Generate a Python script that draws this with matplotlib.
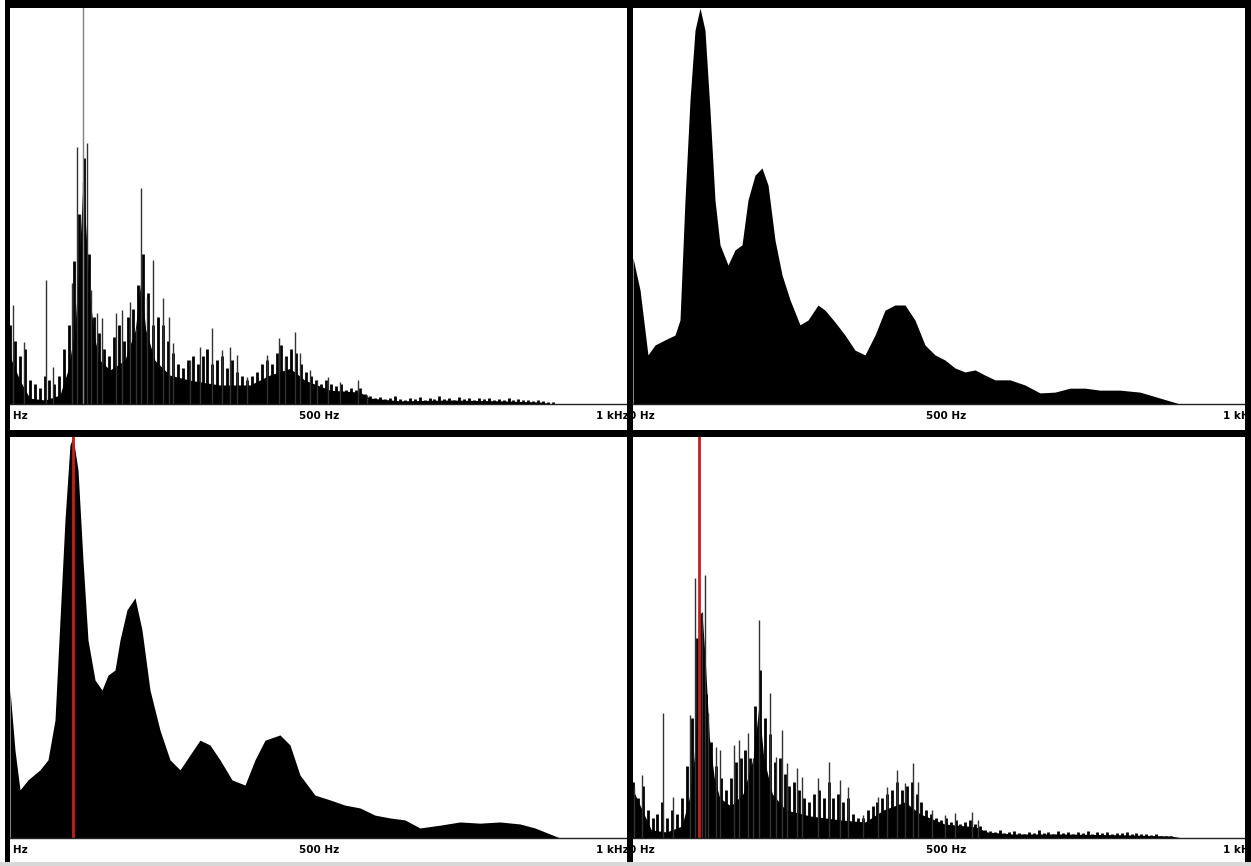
"""Four-panel spectrum view: raw FFT (spiky) and smoothed spectra, 0 Hz - 1 kHz."""

import matplotlib

matplotlib.use('Agg')
import matplotlib.pyplot as plt
from matplotlib.patches import Rectangle

W, H = 1251, 866

# ---- top-right: smoothed spectrum (freq Hz, relative level) ----
tr_freq = [0, 11.5, 24.5, 36, 52.4, 68.7, 76.9, 85.1, 93.3, 101.5, 109.7, 117.8, 126, 134.2,
           142.4, 155.5, 166.9, 178.4, 188.2, 199.7, 211.1, 221, 232.4, 243.9, 257, 273.3,
           286.4, 302.8, 314.2, 330.6, 347, 363.3, 379.7, 396.1, 412.4, 428.8, 445.2, 461.5,
           477.9, 494.3, 510.7, 527, 543.4, 559.8, 576.1, 592.5, 617, 641.6, 666.1, 690.7,
           715.2, 739.8, 764.3, 797.1, 829.8, 862.5, 895.3, 1000]
tr_level = [0.369, 0.288, 0.124, 0.149, 0.162, 0.174, 0.212, 0.515, 0.768, 0.944, 1.0, 0.944,
            0.742, 0.515, 0.402, 0.351, 0.389, 0.402, 0.515, 0.578, 0.596, 0.553, 0.414, 0.326,
            0.263, 0.2, 0.212, 0.25, 0.237, 0.207, 0.174, 0.136, 0.124, 0.174, 0.237, 0.25,
            0.25, 0.212, 0.149, 0.124, 0.111, 0.091, 0.081, 0.086, 0.073, 0.061, 0.061, 0.048,
            0.028, 0.03, 0.04, 0.04, 0.035, 0.035, 0.03, 0.015, 0.0, 0.0]

# ---- bottom-left: smoothed spectrum with marker ----
bl_freq = [0, 8.1, 16.2, 29.2, 48.6, 61.6, 72.9, 81, 89.1, 97.2, 102.1, 110.2, 118.3, 126.4,
           137.8, 149.1, 158.8, 170.2, 178.3, 189.6, 202.6, 213.9, 226.9, 243.1, 259.3, 275.5,
           291.7, 307.9, 324.1, 340.3, 359.8, 380.9, 397.1, 413.3, 437.6, 453.8, 470, 494.3,
           518.6, 542.9, 567.2, 591.6, 615.9, 640.2, 664.5, 696.9, 729.3, 761.7, 794.1, 826.6,
           850.9, 875.2, 891.4, 1000]
bl_level = [0.369, 0.219, 0.12, 0.145, 0.17, 0.195, 0.294, 0.544, 0.793, 0.98, 1.0, 0.918,
            0.693, 0.494, 0.394, 0.369, 0.406, 0.419, 0.494, 0.569, 0.599, 0.519, 0.369, 0.269,
            0.195, 0.17, 0.207, 0.244, 0.232, 0.195, 0.145, 0.132, 0.195, 0.244, 0.257, 0.232,
            0.157, 0.107, 0.095, 0.082, 0.075, 0.057, 0.05, 0.045, 0.025, 0.032, 0.04, 0.037,
            0.04, 0.035, 0.025, 0.01, 0.0, 0.0]
bl_marker_hz = 102

# ---- top-left: raw spectrum ----
tl_spike_freq = [4.9, 22.7, 58.3, 69.7, 100.5, 108.6, 118.3, 124.8, 131.3, 141, 149, 171.8,
                 181.5, 194.5, 204.2, 212.3, 222, 231.8, 248, 257.7, 264.2, 291.7, 308, 327.4,
                 343.6, 356.6, 367.9, 384.1, 416.5, 436, 445.7, 461.9, 470, 486.2, 497.6, 515.4,
                 534.8, 564, 578.6]
tl_spike_level = [0.25, 0.157, 0.313, 0.093, 0.306, 0.649, 0.56, 0.659, 0.288, 0.23, 0.217,
                  0.23, 0.237, 0.258, 0.192, 0.545, 0.27, 0.364, 0.268, 0.22, 0.154, 0.111,
                  0.144, 0.192, 0.136, 0.144, 0.124, 0.068, 0.124, 0.167, 0.116, 0.182, 0.129,
                  0.086, 0.061, 0.068, 0.056, 0.061, 0.023]
tl_base_freq = [0, 16, 32, 57, 81, 94, 105, 113, 118, 123, 130, 138, 146, 162, 186, 203, 212,
                220, 235, 259, 292, 340, 389, 421, 454, 478, 519, 567, 583, 632, 713, 794, 859,
                883, 1000]
tl_base_level = [0.12, 0.06, 0.015, 0.01, 0.023, 0.086, 0.187, 0.39, 0.553, 0.44, 0.26, 0.16,
                 0.11, 0.086, 0.11, 0.187, 0.31, 0.187, 0.11, 0.073, 0.06, 0.048, 0.048, 0.073,
                 0.09, 0.06, 0.035, 0.03, 0.015, 0.008, 0.01, 0.008, 0.005, 0.0, 0.0]
tl_grass = [0.2, 0.16, 0.12, 0.14, 0.06, 0.05, 0.04, 0.07, 0.06, 0.05, 0.07, 0.14, 0.2, 0.36,
            0.48, 0.62, 0.38, 0.22, 0.18, 0.14, 0.12, 0.17, 0.2, 0.16, 0.22, 0.24, 0.3, 0.38,
            0.28, 0.2, 0.22, 0.2, 0.16, 0.13, 0.1, 0.09, 0.11, 0.12, 0.1, 0.12, 0.14, 0.1, 0.11,
            0.12, 0.09, 0.11, 0.08, 0.07, 0.06, 0.07, 0.08, 0.1, 0.11, 0.1, 0.13, 0.15, 0.12,
            0.14, 0.13, 0.1, 0.08, 0.07, 0.06, 0.05, 0.06, 0.05, 0.045, 0.05, 0.035, 0.04,
            0.035, 0.04, 0.025, 0.02, 0.015, 0.018, 0.012, 0.015, 0.02, 0.012, 0.01, 0.015,
            0.012, 0.018, 0.01, 0.014, 0.012, 0.02, 0.012, 0.015, 0.01, 0.018, 0.012, 0.016,
            0.01, 0.014, 0.012, 0.015, 0.01, 0.013, 0.011, 0.014, 0.01, 0.012, 0.009, 0.011,
            0.008, 0.01, 0.007, 0.006, 0.004]
tl_marker_hz = 118.3

# ---- bottom-right: raw spectrum with marker ----
br_spike_freq = [1.6, 14.7, 49.1, 65.5, 93.3, 101.5, 112.9, 117.8, 122.8, 135.8, 142.4, 165.3,
                 173.5, 188.2, 196.4, 206.2, 224.2, 234, 243.9, 252, 268.4, 276.6, 302.8, 320.8,
                 338.8, 351.9, 376.4, 401, 415.7, 432.1, 445.2, 458.3, 466.5, 489.4, 510.7, 527,
                 554.8, 564.7]
br_spike_level = [0.127, 0.157, 0.312, 0.102, 0.307, 0.648, 0.564, 0.656, 0.312, 0.227, 0.219,
                  0.232, 0.244, 0.262, 0.2, 0.544, 0.362, 0.202, 0.269, 0.187, 0.175, 0.152,
                  0.15, 0.19, 0.145, 0.127, 0.057, 0.102, 0.127, 0.17, 0.137, 0.187, 0.14, 0.07,
                  0.057, 0.062, 0.065, 0.045]
br_base_freq = [0, 15, 30, 55, 80, 92, 100, 107, 113, 118, 125, 133, 142, 160, 180, 197, 206,
                214, 228, 250, 290, 340, 380, 410, 445, 470, 510, 560, 580, 620, 700, 800, 880,
                900, 1000]
br_base_level = [0.12, 0.07, 0.02, 0.015, 0.03, 0.1, 0.2, 0.4, 0.56, 0.45, 0.25, 0.15, 0.1,
                 0.08, 0.11, 0.2, 0.33, 0.2, 0.11, 0.07, 0.055, 0.045, 0.04, 0.07, 0.09, 0.06,
                 0.035, 0.028, 0.015, 0.01, 0.01, 0.008, 0.005, 0.0, 0.0]
br_grass = [0.14, 0.1, 0.13, 0.07, 0.05, 0.06, 0.09, 0.05, 0.07, 0.06, 0.1, 0.18, 0.3, 0.5,
            0.56, 0.36, 0.24, 0.18, 0.15, 0.12, 0.15, 0.19, 0.2, 0.22, 0.2, 0.33, 0.42, 0.3,
            0.26, 0.19, 0.2, 0.16, 0.13, 0.14, 0.12, 0.1, 0.09, 0.11, 0.12, 0.1, 0.14, 0.1, 0.11,
            0.09, 0.1, 0.06, 0.05, 0.05, 0.07, 0.08, 0.09, 0.1, 0.11, 0.12, 0.14, 0.12, 0.13,
            0.14, 0.11, 0.09, 0.07, 0.06, 0.05, 0.045, 0.05, 0.04, 0.045, 0.035, 0.04, 0.045,
            0.035, 0.03, 0.02, 0.018, 0.015, 0.02, 0.012, 0.015, 0.018, 0.012, 0.01, 0.016,
            0.012, 0.02, 0.012, 0.015, 0.01, 0.018, 0.012, 0.016, 0.01, 0.015, 0.012, 0.018,
            0.01, 0.014, 0.012, 0.016, 0.01, 0.013, 0.012, 0.015, 0.01, 0.012, 0.009, 0.01,
            0.008, 0.009, 0.006, 0.005, 0.004]
br_marker_hz = 108

GRASS_STEP_HZ = 8
tick_labels = ['0 Hz', '500 Hz', '1 kHz']


def _panel(fig, x0, y0, x1, y1):
    """Axes placed by pixel box (y measured from the top of the image)."""
    ax = fig.add_axes((x0 / W, 1 - y1 / H, (x1 - x0) / W, (y1 - y0) / H))
    ax.set_xlim(0, 1000)
    ax.set_ylim(0, 1)
    ax.set_xticks([])
    ax.set_yticks([])
    for side in ('top', 'left', 'right'):
        ax.spines[side].set_visible(False)
    ax.spines['bottom'].set_linewidth(1.0)
    ax.spines['bottom'].set_color('#222222')
    return ax


def _block(fig, x0, y0, x1, y1, color='black'):
    fig.add_artist(Rectangle((x0 / W, 1 - y1 / H), (x1 - x0) / W, (y1 - y0) / H,
                             transform=fig.transFigure, facecolor=color, linewidth=0, zorder=10))


def _raw(ax, base_f, base_l, grass, spike_f, spike_l):
    ax.fill_between(base_f, 0, base_l, color='black', linewidth=0)
    grass_f = [i * GRASS_STEP_HZ for i in range(len(grass))]
    ax.vlines(grass_f, 0, grass, color='black', linewidth=2.0)
    ax.vlines(spike_f, 0, spike_l, color='#333333', linewidth=1.0)


def _labels(fig, x_left, y):
    kw = dict(fontsize=7.5, fontweight='bold', va='center', color='black', zorder=5)
    fig.text(x_left / W, 1 - y / H, tick_labels[0], ha='left', **kw)
    fig.text((x_left + 317) / W, 1 - y / H, tick_labels[1], ha='center', **kw)
    fig.text((x_left + 627) / W, 1 - y / H, tick_labels[2], ha='right', **kw)


fig = plt.figure(figsize=(W / 100, H / 100), dpi=100)
fig.patch.set_facecolor('white')

ax_tl = _panel(fig, 10, 8, 627, 404)
ax_tr = _panel(fig, 633, 8, 1244, 404)
ax_bl = _panel(fig, 10, 437, 627, 838)
ax_br = _panel(fig, 633, 437, 1244, 838)

_raw(ax_tl, tl_base_freq, tl_base_level, tl_grass, tl_spike_freq, tl_spike_level)
ax_tl.axvline(tl_marker_hz, color='#808080', linewidth=1.0)

ax_tr.fill_between(tr_freq, 0, tr_level, color='black', linewidth=0)

ax_bl.fill_between(bl_freq, 0, bl_level, color='black', linewidth=0)
ax_bl.axvline(bl_marker_hz, color='#c81e1e', linewidth=2.0)

_raw(ax_br, br_base_freq, br_base_level, br_grass, br_spike_freq, br_spike_level)
ax_br.axvline(br_marker_hz, color='#c81e1e', linewidth=2.0)

_labels(fig, 2, 416)
_labels(fig, 629, 416)
_labels(fig, 2, 850)
_labels(fig, 629, 850)

# heavy frame and separators; white strip at far left hides the clipped "0"
_block(fig, 0, 0, 5, 866, color='white')
_block(fig, 5, 0, 1251, 8)
_block(fig, 5, 0, 10, 862)
_block(fig, 1245, 0, 1251, 862)
_block(fig, 627, 0, 633, 862)
_block(fig, 5, 430, 1251, 437)
_block(fig, 0, 862, 1251, 866, color='#d8d8d8')

fig.savefig('out.png', dpi=100, facecolor='white')
